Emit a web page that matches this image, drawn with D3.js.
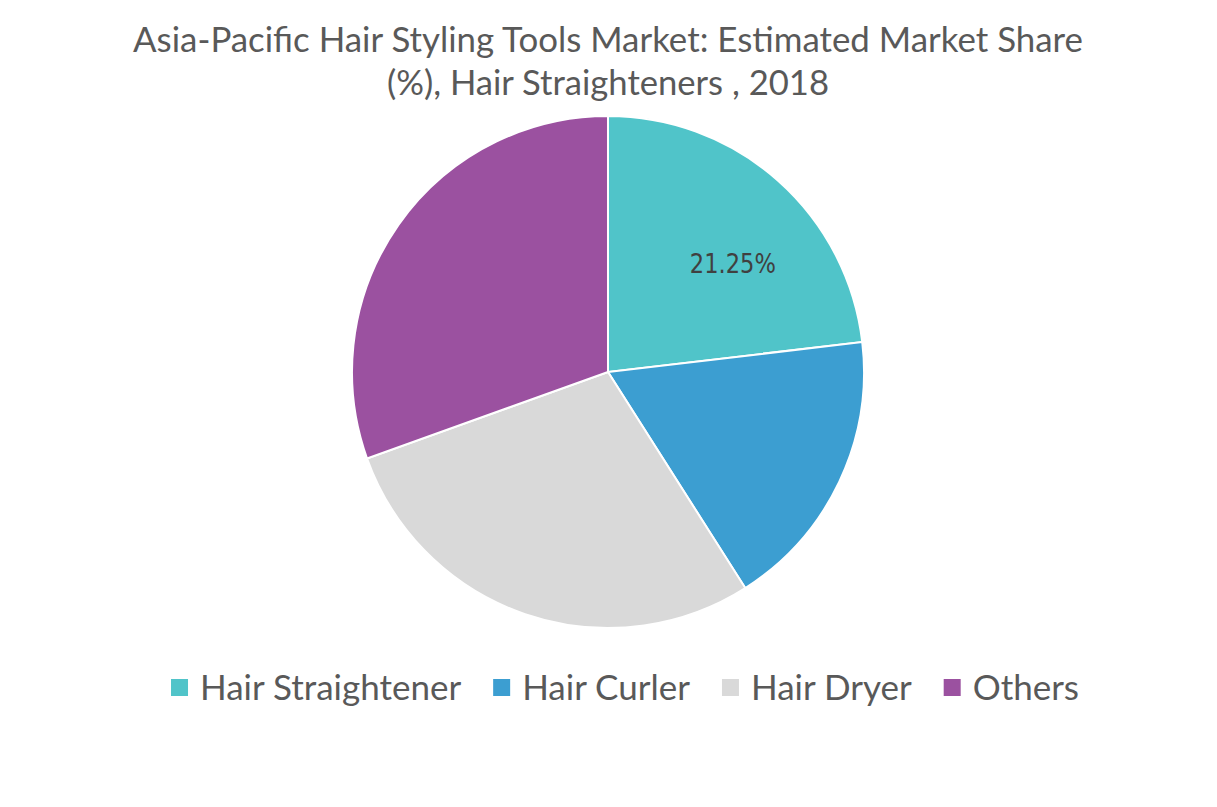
<!DOCTYPE html>
<html>
<head>
<meta charset="utf-8">
<script src="https://cdn.jsdelivr.net/npm/d3@7"></script>
<style>
  body { margin: 0; background: #fff; }
  svg text { font-family: Lato, "Noto Sans", sans-serif; }
</style>
</head>
<body>
<div id="chart"></div>
<script>
// Chart data
var titleLines = ["Asia-Pacific Hair Styling Tools Market: Estimated Market Share", "(%), Hair Straighteners , 2018"];
var categories = ["Hair Straightener", "Hair Curler", "Hair Dryer", "Others"];
var shares = [21.25, 16.4, 26.2, 28.0];
var colors = ["#50c4c9", "#3c9ed1", "#d9d9d9", "#9b51a0"];
var shownLabels = ["21.25%", "", "", ""];

var width = 1217, height = 807;
var cx = 608, cy = 372, radius = 256;

var svg = d3.select("#chart")
  .append("svg")
  .attr("width", width)
  .attr("height", height);

// Title
svg.selectAll(".title")
  .data(titleLines)
  .enter().append("text")
  .attr("class", "title")
  .attr("x", 608)
  .attr("y", function(d, i) { return 52 + i * 43; })
  .attr("text-anchor", "middle")
  .attr("fill", "#595959")
  .attr("font-size", 34)
  .attr("textLength", function(d, i) { return i == 0 ? 950 : 442; })
  .attr("lengthAdjust", "spacingAndGlyphs")
  .text(function(d) { return d; });

// Pie
var pie = d3.pie().sort(null).value(function(d) { return d; });
var arc = d3.arc().innerRadius(0).outerRadius(radius);
var labelArc = d3.arc().innerRadius(radius * 0.64).outerRadius(radius * 0.64);

var g = svg.append("g").attr("transform", "translate(" + cx + "," + cy + ")");

var slices = g.selectAll(".slice")
  .data(pie(shares))
  .enter().append("g")
  .attr("class", "slice");

slices.append("path")
  .attr("d", arc)
  .attr("fill", function(d, i) { return colors[i]; })
  .attr("stroke", "#fff")
  .attr("stroke-width", 2);

slices.append("text")
  .attr("transform", function(d) {
    var c = labelArc.centroid(d);
    return "translate(" + (c[0] + 16) + "," + (c[1] + 14) + ")";
  })
  .attr("text-anchor", "middle")
  .attr("dy", "0.35em")
  .attr("fill", "#404040")
  .attr("font-size", 26)
  .style("font-family", "'DejaVu Sans', sans-serif")
  .attr("textLength", function(d, i) { return shownLabels[i] ? 86 : null; })
  .attr("lengthAdjust", "spacingAndGlyphs")
  .text(function(d, i) { return shownLabels[i]; });

// Legend
var legend = svg.append("g").attr("class", "legend");
var x = 0, gap = 32;
categories.forEach(function(c, i) {
  var item = legend.append("g").attr("transform", "translate(" + x + ",0)");
  item.append("rect")
    .attr("x", 0).attr("y", -9)
    .attr("width", 17).attr("height", 17)
    .attr("fill", colors[i]);
  var t = item.append("text")
    .attr("x", 29).attr("y", 0)
    .attr("dy", "0.35em")
    .attr("fill", "#595959")
    .attr("font-size", 35)
    .text(c);
  x += 29 + t.node().getComputedTextLength() + gap;
});
var legendWidth = x - gap;
legend.attr("transform", "translate(" + (625 - legendWidth / 2) + ",688)");
</script>
</body>
</html>
